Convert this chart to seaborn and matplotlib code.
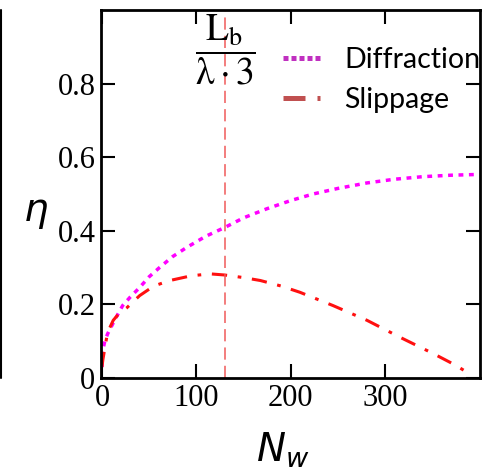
import seaborn as sns
import numpy as np
import matplotlib
matplotlib.use("Agg")
import matplotlib.pyplot as plt
from matplotlib.lines import Line2D

# values
nw_diff = [0, 1, 3, 6, 9, 14, 22, 30, 40, 50, 61, 75, 90, 110, 131, 150, 175, 200, 224, 250, 281, 310, 340, 370, 398]
eta_diff = [0.03, 0.076, 0.10, 0.12, 0.135, 0.16, 0.197, 0.22, 0.246, 0.275, 0.30, 0.33, 0.355, 0.385, 0.41,
            0.435, 0.46, 0.482, 0.50, 0.515, 0.53, 0.54, 0.547, 0.551, 0.553]
nw_slip = [0, 1, 3, 5, 8, 12, 18, 26, 40, 55, 72, 95, 115, 130, 150, 168, 190, 210, 245, 281, 316, 351, 375, 392]
eta_slip = [0.03, 0.05, 0.08, 0.11, 0.135, 0.157, 0.175, 0.19, 0.224, 0.25, 0.265, 0.278, 0.283, 0.28, 0.273,
            0.265, 0.25, 0.233, 0.197, 0.157, 0.111, 0.067, 0.035, 0.008]
nw_mark = 131
xticks = [0, 100, 200, 300]
yticks = [0, 0.2, 0.4, 0.6, 0.8]
ytick_labels = ["0", "0.2", "0.4", "0.6", "0.8"]

sns.set_style("ticks")
plt.rcParams["font.family"] = ["Liberation Serif", "DejaVu Serif"]
plt.rcParams["text.color"] = "black"
plt.rcParams["xtick.color"] = "black"
plt.rcParams["ytick.color"] = "black"

fig = plt.figure(figsize=(4.91, 4.72), dpi=100)
ax = fig.add_axes([0.2057, 0.199, 0.772, 0.78])

sns.lineplot(x=nw_diff, y=eta_diff, ax=ax, color="#ff00ff", lw=2.5, linestyle=(0, (1.4, 1.6)))
sns.lineplot(x=nw_slip, y=eta_slip, ax=ax, color="#ff1010", lw=2.2, linestyle=(0, (5, 3.5, 1.2, 3.5)))
ax.axvline(nw_mark, color="#f05a5a", lw=1.1, linestyle=(0, (8, 4)))

ax.set_xlim(-1, 401)
ax.set_ylim(0, 1)
ax.set_xticks(xticks)
ax.set_yticks(yticks)
ax.set_yticklabels(ytick_labels)
ax.tick_params(direction="in", length=10, width=1.5, top=True, right=True,
               labelsize=22, pad=4)
for s in ax.spines.values():
    s.set_linewidth(2)
    s.set_color("black")

ax.text(nw_mark, 0.89, r"$\dfrac{\mathrm{L_b}}{\mathrm{\lambda\cdot 3}}$", ha="center", va="center",
        fontsize=27, math_fontfamily="stix")

fig.text(0.072, 0.55, r"$\eta$", fontsize=28, math_fontfamily="dejavusans", ha="center", va="center")
fig.text(0.575, 0.002, r"$N_w$", fontsize=28, math_fontfamily="dejavusans", ha="center", va="bottom")

handles = [Line2D([], [], color="#c030c0", lw=3.6, linestyle=(0, (1.0, 0.6))),
           Line2D([], [], color="#c05050", lw=3.6, linestyle=(0, (4.4, 2.4, 0.6, 3)))]
leg = ax.legend(handles, ["Diffraction", "Slippage"], loc="upper left", bbox_to_anchor=(0.48, 0.9),
                frameon=False, handlelength=1.42, handletextpad=0.74, labelspacing=0.5,
                borderpad=0, borderaxespad=0, prop={"family": "Lato", "size": 20.5})

fig.add_artist(Line2D([0.003, 0.003], [0.199, 0.979], color="black", lw=1.5))

fig.savefig("out.png", dpi=100, facecolor="white")
